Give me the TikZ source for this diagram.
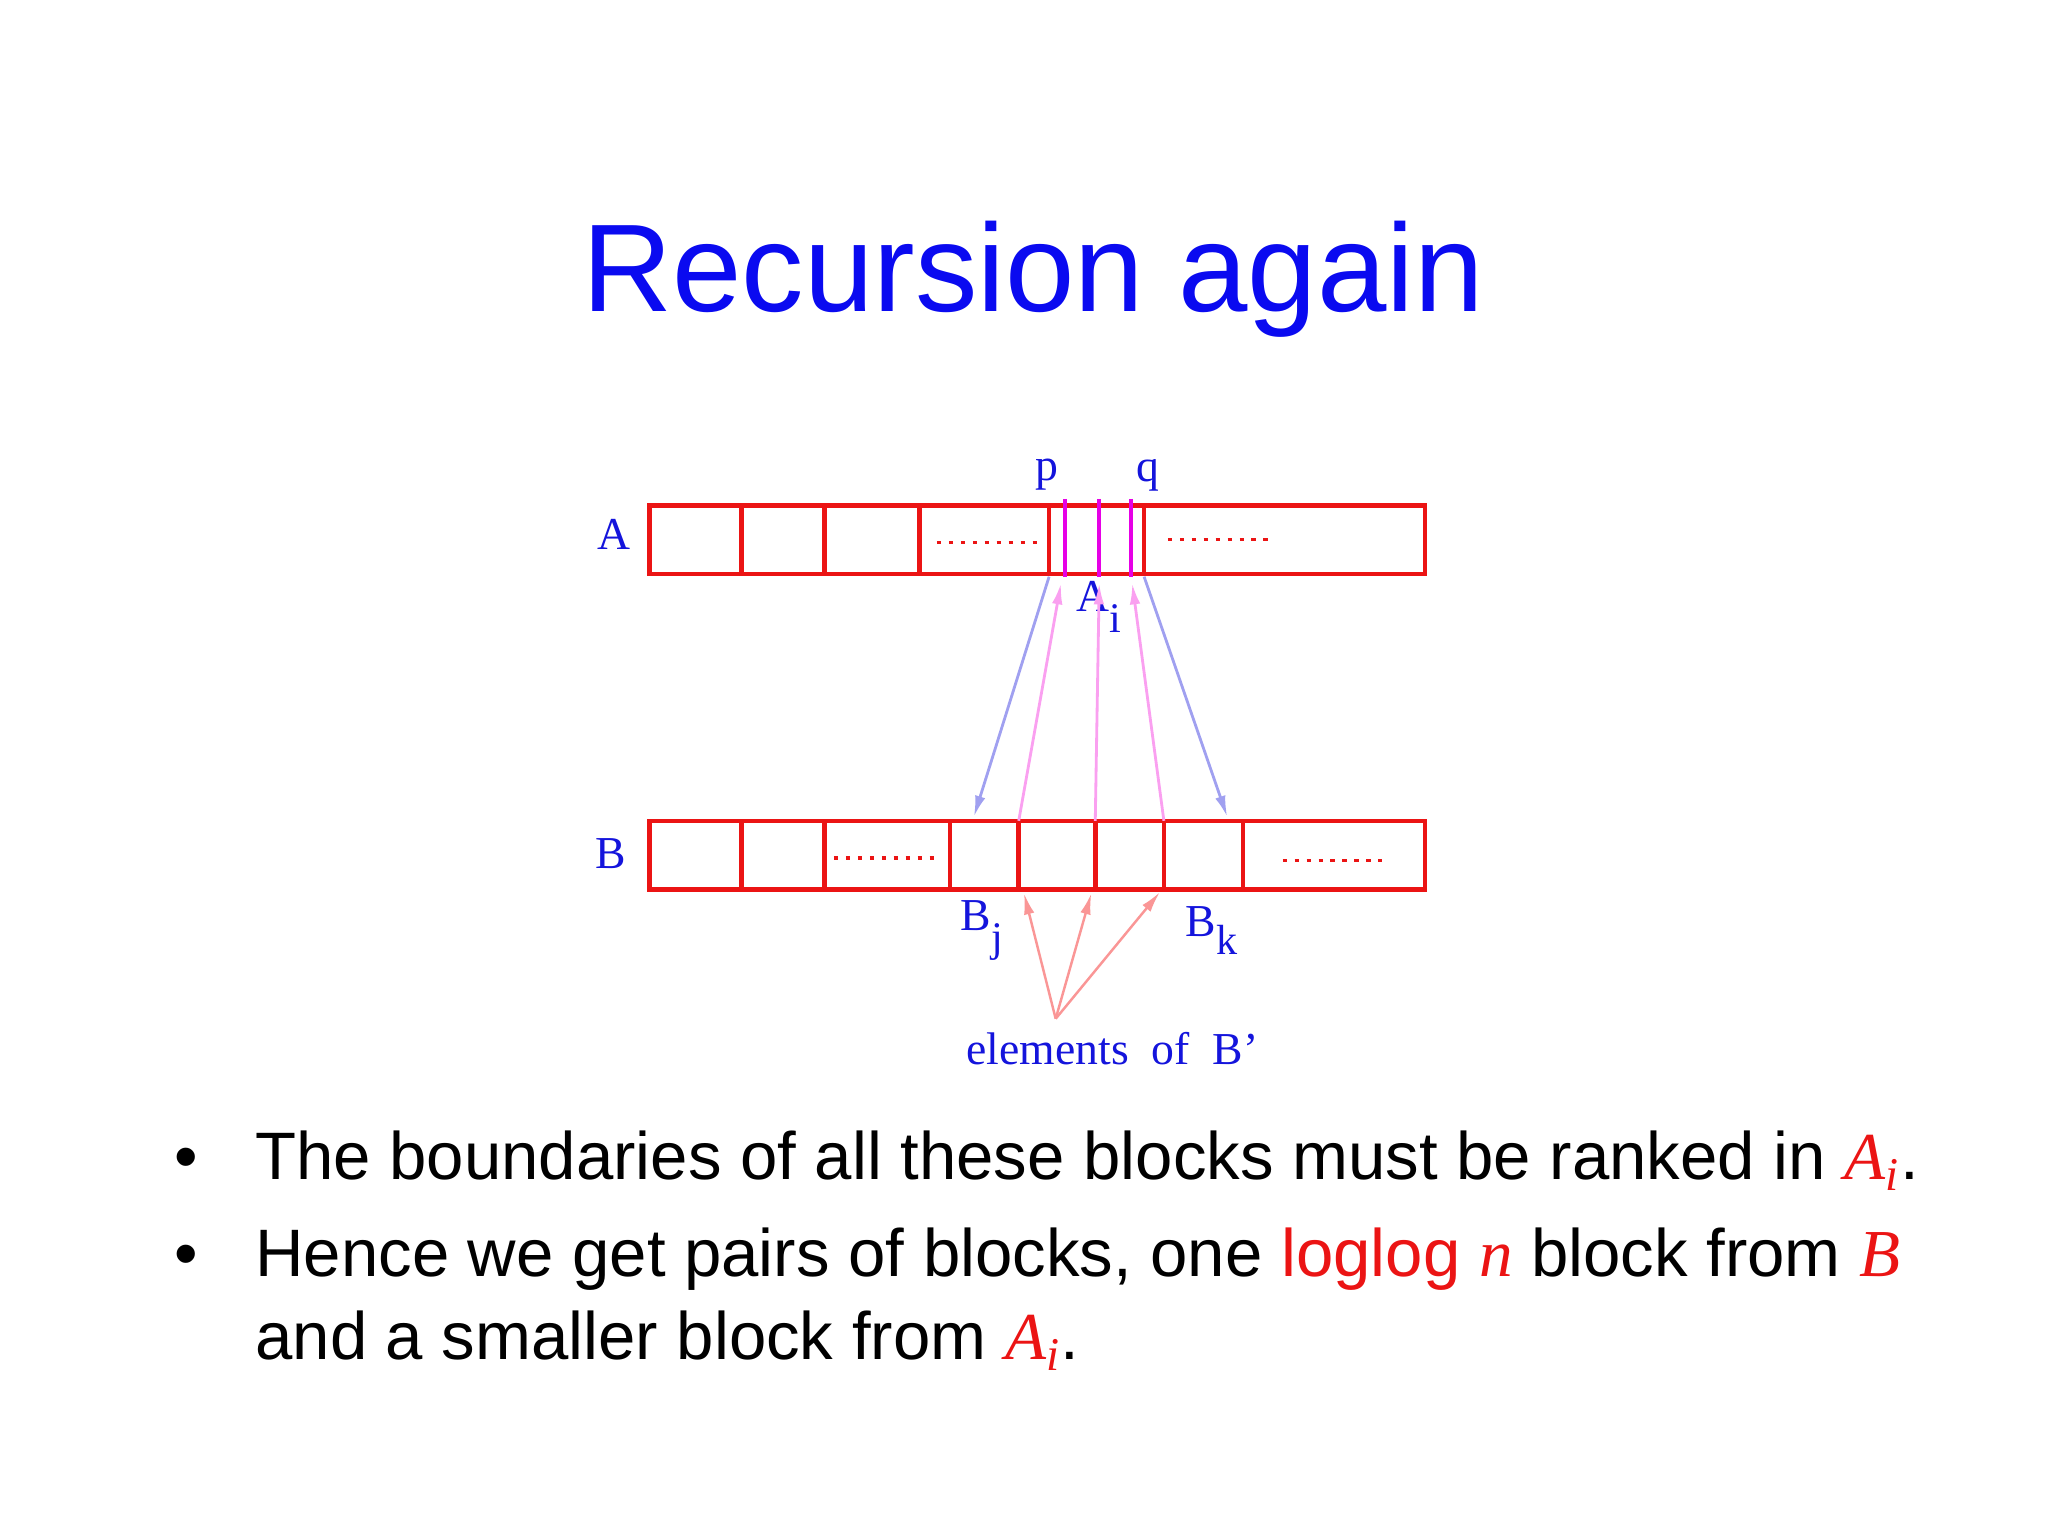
\documentclass[tikz,border=0pt]{standalone}
\usepackage{fontspec}
\setmainfont{Liberation Serif}
\setsansfont{Liberation Sans}
\newfontfamily\titlefont{Liberation Sans}
\usetikzlibrary{arrows.meta}
\definecolor{tblue}{RGB}{10,10,240}
\definecolor{lblue}{RGB}{20,20,220}
\definecolor{bred}{RGB}{235,20,20}
\definecolor{mag}{RGB}{230,0,230}
\definecolor{pinkl}{RGB}{250,160,240}
\definecolor{blul}{RGB}{160,160,240}
\definecolor{redl}{RGB}{250,150,150}
\tikzset{
  box/.style={draw=bred, line width=1.3pt},
  dots/.style={draw=bred, line width=1pt, dash pattern=on 1.2pt off 2.2pt},
  lbl/.style={text=lblue, font=\fontsize{13}{15}\selectfont, inner sep=0pt},
  bul/.style={anchor=base west, inner sep=0pt, font=\sffamily\fontsize{19.1}{22}\selectfont},
  mline/.style={draw=mag, line width=1.2pt},
  parr/.style={draw=pinkl, line width=0.8pt, -{Latex[length=6pt,width=3pt]}},
  barr/.style={draw=blul, line width=0.8pt, -{Latex[length=6pt,width=3pt]}},
  rarr/.style={draw=redl, line width=0.7pt, -{Latex[length=6pt,width=3pt]}},
}
\begin{document}
\begin{tikzpicture}[x=0.013196cm,y=-0.013196cm]
\useasboundingbox (0,0) rectangle (1552,1164);
\node[text=tblue, font=\titlefont\fontsize{35.5}{42}\selectfont, anchor=base] (title) at (783,236) {Recursion again};
% A row
\draw[box] (492,383) rectangle (1080,435);
\foreach \x in {562,625,697,795,867} \draw[box] (\x,383) -- (\x,435);
\draw[dots] (710,411) -- (787,411);
\draw[dots] (885,409) -- (962,409);
% B row
\draw[box] (492,622) rectangle (1080,674);
\foreach \x in {562,625,720,772,830,882,942} \draw[box] (\x,622) -- (\x,674);
\draw[dots] (632,650) -- (710,650);
\draw[dots] (972,652) -- (1048,652);
% labels
\node[lbl] (la) at (465,405) {A};
\node[lbl] (lb) at (463,647) {B};
\node[lbl] (lp) at (793,360) {p};
\node[lbl] (lq) at (870,360) {q};
\node[lbl] (lai) at (833,460) {A\raisebox{-6pt}{\fontsize{12}{12}\selectfont i}};
\node[lbl] (lbj) at (744,705) {B\raisebox{-6pt}{\fontsize{12}{12}\selectfont j}};
\node[lbl] (lbk) at (918,705) {B\raisebox{-5pt}{\fontsize{12}{12}\selectfont k}};
\node[lbl] (el) at (843,795) {elements\ \ of\ \ B'};
% coordinates
\coordinate (m1t) at (807,378); \coordinate (m1b) at (807,437);
\coordinate (m2t) at (833,378); \coordinate (m2b) at (833,437);
\coordinate (m3t) at (857,378); \coordinate (m3b) at (857,437);
\draw[mline] (m1t) -- (m1b);
\draw[mline] (m2t) -- (m2b);
\draw[mline] (m3t) -- (m3b);
\coordinate (p1) at (772,622); \coordinate (p1e) at (804,442);
\coordinate (p2) at (830,622); \coordinate (p2e) at (833,442);
\coordinate (p3) at (882,622); \coordinate (p3e) at (858,442);
\draw[parr] (p1) -- (p1e);
\draw[parr] (p2) -- (p2e);
\draw[parr] (p3) -- (p3e);
\coordinate (b1s) at (795,437); \coordinate (b1e) at (738,619);
\coordinate (b2s) at (867,437); \coordinate (b2e) at (930,619);
\draw[barr] (b1s) -- (b1e);
\draw[barr] (b2s) -- (b2e);
\coordinate (eo) at (800,772);
\coordinate (r1) at (776,677); \coordinate (r2) at (827,677); \coordinate (r3) at (879,676);
\draw[rarr] (eo) -- (r1);
\draw[rarr] (eo) -- (r2);
\draw[rarr] (eo) -- (r3);
% bullets
\node[bul] (d1) at (132,894) {•};
\node[bul] (t1) at (193,894) {The boundaries of all these blocks must be ranked in \textcolor{bred}{\rmfamily\itshape A\textsubscript{i}}.};
\node[bul] (d2) at (132,967) {•};
\node[bul] (t2) at (193,967) {Hence we get pairs of blocks, one \textcolor{bred}{loglog \rmfamily\itshape n} block from \textcolor{bred}{\rmfamily\itshape B}};
\node[bul] (t3) at (193,1030) {and a smaller block from \textcolor{bred}{\rmfamily\itshape A\textsubscript{i}}.};
\end{tikzpicture}
\end{document}
